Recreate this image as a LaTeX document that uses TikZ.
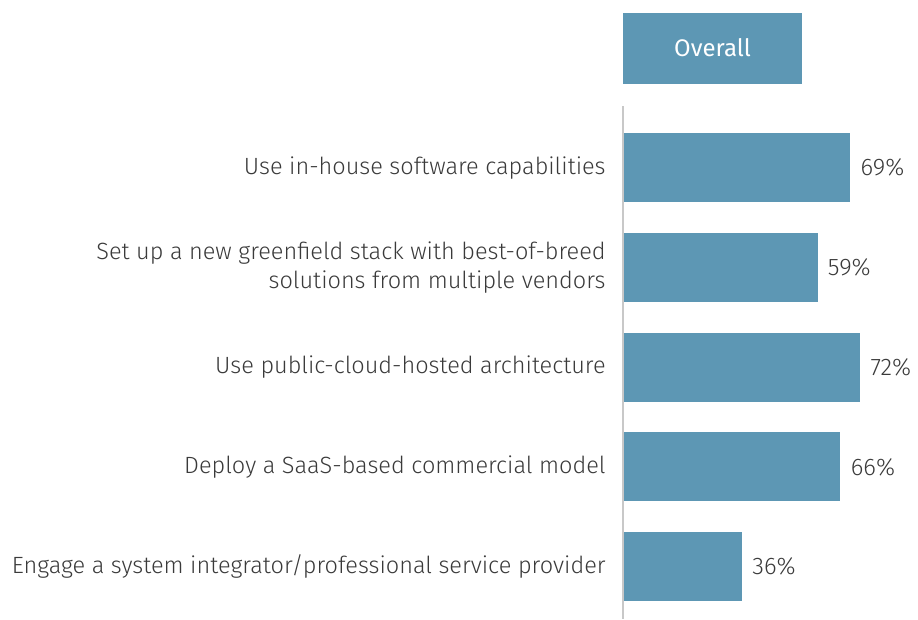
\documentclass[tikz,border=0pt]{standalone}
\usepackage{fontspec}
\setmainfont{Fira Sans Light}
\newfontfamily\hdrfont{Fira Sans}
\definecolor{barc}{HTML}{5D97B4}
\definecolor{txtc}{HTML}{3A3A3A}
\definecolor{axisc}{HTML}{C8C8C8}
\begin{document}
\begin{tikzpicture}[x=1pt,y=-1pt,
  bar/.style={fill=barc,draw=none},
  lbl/.style={anchor=east,align=right,text=txtc,font=\fontsize{23.5}{29}\selectfont,inner sep=0pt},
  pct/.style={anchor=west,text=txtc,font=\fontsize{24}{28}\selectfont,inner sep=0pt}]
\useasboundingbox (0,0) rectangle (918,619);
\node[bar,minimum width=179pt,minimum height=71pt,inner sep=0pt,text=white,font=\hdrfont\fontsize{24}{28}\selectfont] (hdr) at (712.5,48) {Overall};
\coordinate (atop) at (623,106);
\coordinate (abot) at (623,619);
\draw[axisc,line width=1.5pt] (atop) -- (abot);
\foreach \i/\v/\t in {0/69/{Use in-house software capabilities},
  1/59/{Set up a new greenfield stack with best-of-breed\\solutions from multiple vendors},
  2/72/{Use public-cloud-hosted architecture},
  3/66/{Deploy a SaaS-based commercial model},
  4/36/{Engage a system integrator/professional service provider}}{
  \pgfmathsetmacro{\yt}{133+99.75*\i}
  \node[bar,inner sep=0pt,minimum height=69pt,minimum width=3.28*\v pt,anchor=north west] (b\i) at (623.8,\yt) {};
  \node[pct] (p\i) at ([xshift=10pt]b\i.east) {\v\%};
  \node[lbl] (l\i) at ([xshift=-18pt]b\i.west) {\t};
}
\end{tikzpicture}
\end{document}
